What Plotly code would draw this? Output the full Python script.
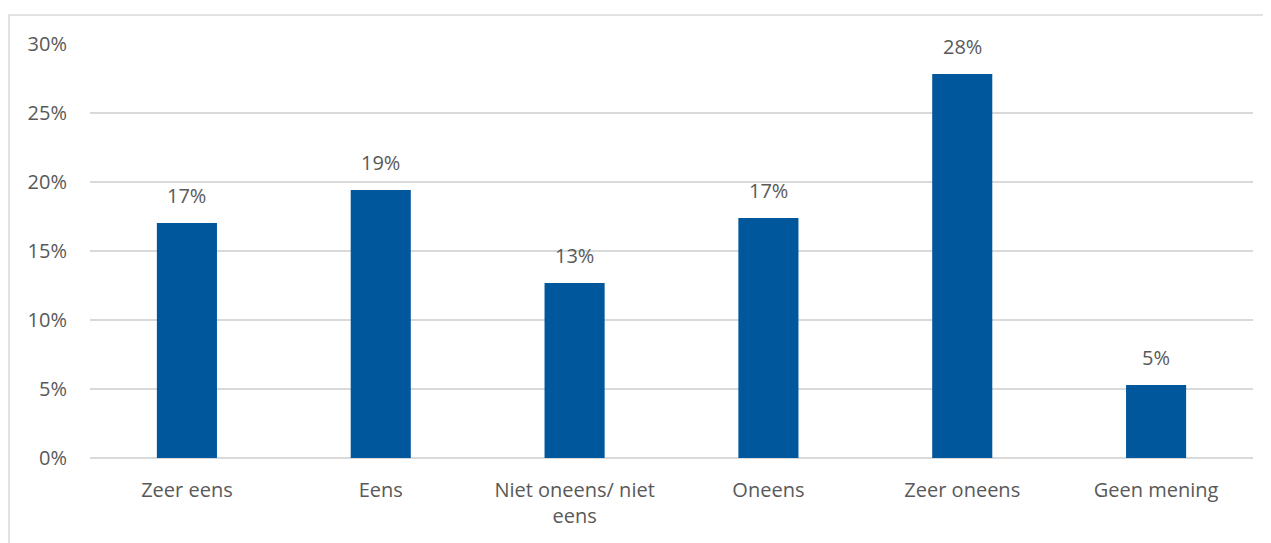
import plotly.graph_objects as go

categories = ["Zeer eens", "Eens", "Niet oneens/ niet<br>eens", "Oneens", "Zeer oneens", "Geen mening"]
values = [0.1703, 0.1942, 0.1268, 0.1739, 0.2783, 0.0529]
tick_vals = [0, 0.05, 0.10, 0.15, 0.20, 0.25, 0.30]

font_family = "Open Sans, Noto Sans, sans-serif"
text_color = "#595959"
fs = 20

fig = go.Figure()
fig.add_trace(go.Bar(
    x=categories, y=values,
    marker=dict(color="#00579C", line=dict(width=0)),
    hoverinfo="x+y",
))

for c, v in zip(categories, values):
    fig.add_annotation(
        x=c, y=v, text=f"{round(v*100):.0f}%", showarrow=False,
        yanchor="bottom", yshift=12,
        font=dict(family=font_family, size=fs, color=text_color),
    )

fig.update_layout(
    width=1263, height=535,
    margin=dict(l=82, r=18, t=36, b=85),
    paper_bgcolor="white", plot_bgcolor="white",
    bargap=0.69,
    showlegend=False,
    font=dict(family=font_family, size=fs, color=text_color),
    xaxis=dict(showgrid=False, showline=False, ticks="", ticklabelstandoff=18,
               tickfont=dict(size=fs, color=text_color)),
    yaxis=dict(range=[0, 0.30], tickvals=tick_vals, tickformat=".0%",
               showgrid=True, gridcolor="#D9D9D9", gridwidth=1.5,
               zeroline=True, zerolinecolor="#D9D9D9", zerolinewidth=1.5,
               showline=False, ticks="", ticklabelstandoff=22,
               tickfont=dict(size=fs, color=text_color)),
    shapes=[dict(type="rect", xref="paper", yref="paper",
                 x0=(9 - 90) / 1163, x1=(1290 - 90) / 1163,
                 y0=-0.3, y1=1 + (44 - 15) / 414,
                 line=dict(color="#D9D9D9", width=1.5), layer="below")],
)

fig.write_html("out.html")
